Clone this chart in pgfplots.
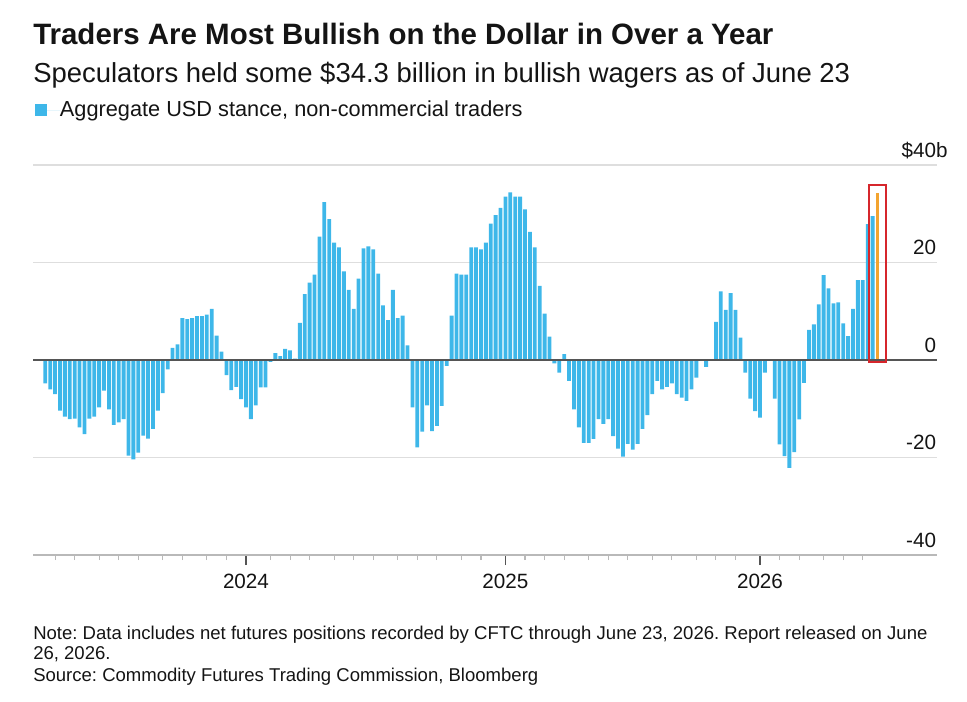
\documentclass[border=0pt]{standalone}
\usepackage{fontspec}
\setmainfont{Liberation Sans}
\usepackage{pgfplots}
\pgfplotsset{compat=1.18}
\definecolor{usdblue}{RGB}{62,183,233}
\definecolor{hlorange}{RGB}{243,164,48}
\definecolor{boxred}{RGB}{214,38,44}
\definecolor{gridgray}{RGB}{222,222,222}
\definecolor{axgray}{RGB}{185,185,185}
\definecolor{zerogray}{RGB}{85,85,85}
\definecolor{txt}{RGB}{20,20,20}
\frenchspacing
\begin{document}
\begin{tikzpicture}
\useasboundingbox (0,0) rectangle (725.25pt,-525.75pt);
\node[anchor=base west, inner sep=0pt, text=txt, font=\fontsize{22.1pt}{26pt}\selectfont\bfseries] at (24.75pt,-33pt) {Traders Are Most Bullish on the Dollar in Over a Year};
\node[anchor=base west, inner sep=0pt, text=txt, font=\fontsize{20.6pt}{24pt}\selectfont] at (24.75pt,-61.5pt) {Speculators held some \$34.3 billion in bullish wagers as of June 23};
\begin{axis}[
  at={(24.75pt,-416.25pt)}, anchor=south west,
  scale only axis, width=678pt, height=292.5pt,
  xmin=-1.51, xmax=183.16, ymin=-40, ymax=40,
  clip=false,
  axis line style={draw=none},
  ymajorgrids, grid style={gridgray, line width=1.1pt},
  ytick={-40,-20,0,20,40},
  yticklabels={-40,-20,0,20,\$40\rlap{b}},
  yticklabel pos=right, ytick pos=right,
  ytick style={draw=none},
  yticklabel style={anchor=base east, inner sep=0pt, xshift=-8pt, yshift=6pt, text=txt, font=\fontsize{15.5pt}{18pt}\selectfont},
  xtick={42,95,147}, xticklabels={2024,2025,2026},
  minor xtick={3,7,12,16,20,25,29,34,38,47,51,55,60,64,68,73,77,81,86,90,99,103,107,112,116,120,125,129,134,138,142,151,155,160,164,168},
  xtick pos=left, tick align=outside,
  major tick length=7.5pt, minor tick length=3.75pt,
  every major x tick/.append style={zerogray, line width=1pt},
  every minor x tick/.append style={axgray, line width=0.8pt},
  xticklabel style={anchor=base, inner sep=0pt, yshift=-17.25pt, text=txt, font=\fontsize{15.5pt}{18pt}\selectfont},
  legend style={draw=none, fill=none, at={(axis description cs:0.0022,1.141)}, anchor=west, inner sep=0pt, outer sep=0pt, text=txt, font=\fontsize{16.3pt}{19pt}\selectfont, nodes={inner sep=0pt}},
  legend cell align=left,
  legend image code/.code={\fill[usdblue] (0pt,-4.5pt) rectangle (9pt,4.5pt); \path (0pt,0pt) -- (18.75pt,0pt);},
]
\addplot[ybar, bar width=0.78, bar shift=0pt, fill=usdblue, draw=none] coordinates {
(1,-4.8) (2,-6.0) (3,-7.0) (4,-10.4) (5,-11.6) (6,-12.1) (7,-12.0) (8,-13.8) (9,-15.2) (10,-12.0)
(11,-11.6) (12,-9.7) (13,-6.3) (14,-10.1) (15,-13.3) (16,-12.8) (17,-12.1) (18,-19.6) (19,-20.4) (20,-19.0)
(21,-15.5) (22,-16.1) (23,-14.1) (24,-10.4) (25,-6.8) (26,-1.9) (27,2.5) (28,3.2) (29,8.6) (30,8.4)
(31,8.6) (32,9.0) (33,9.0) (34,9.3) (35,10.5) (36,5.0) (37,1.7) (38,-3.1) (39,-6.2) (40,-5.5)
(41,-8.0) (42,-9.7) (43,-12.1) (44,-9.3) (45,-5.6) (46,-5.6) (47,-0.4) (48,1.4) (49,0.8) (50,2.3)
(51,2.0) (52,0.3) (53,7.6) (54,13.5) (55,15.9) (56,17.5) (57,25.3) (58,32.4) (59,28.9) (60,24.1)
(61,23.1) (62,18.2) (63,14.4) (64,10.5) (65,16.7) (66,22.9) (67,23.3) (68,22.7) (69,17.7) (70,11.2)
(71,8.2) (72,14.4) (73,8.6) (74,9.1) (75,3.0) (76,-9.7) (77,-17.9) (78,-14.7) (79,-9.3) (80,-14.6)
(81,-13.5) (82,-9.4) (83,-1.2) (84,9.1) (85,17.7) (86,17.5) (87,17.5) (88,23.1) (89,23.1) (90,22.7)
(91,24.1) (92,28.0) (93,29.7) (94,31.2) (95,33.5) (96,34.4) (97,33.5) (98,33.5) (99,30.9) (100,26.3)
(101,23.1) (102,15.2) (103,9.5) (104,4.8) (105,-0.7) (106,-2.6) (107,1.2) (108,-4.3) (109,-10.1) (110,-13.8)
(111,-17.0) (112,-17.0) (113,-16.2) (114,-12.1) (115,-13.1) (116,-12.1) (117,-15.6) (118,-18.2) (119,-19.8) (120,-17.2)
(121,-18.4) (122,-17.2) (123,-14.1) (124,-11.3) (125,-7.0) (126,-4.3) (127,-6.0) (128,-5.5) (129,-4.8) (130,-7.0)
(131,-7.7) (132,-8.4) (133,-6.0) (134,-3.6) (135,-0.2) (136,-1.4) (137,0.2) (138,7.8) (139,14.1) (140,10.3)
(141,13.7) (142,10.3) (143,4.6) (144,-2.6) (145,-7.9) (146,-10.5) (147,-11.8) (148,-2.6) (149,-0.2) (150,-7.9)
(151,-17.3) (152,-19.7) (153,-22.1) (154,-18.9) (155,-12.2) (156,-4.7) (157,6.2) (158,7.3) (159,11.4) (160,17.4)
(161,14.7) (162,11.6) (163,11.8) (164,7.5) (165,4.9) (166,10.5) (167,16.4) (168,16.4) (169,27.9) (170,29.5)
};
\addlegendentry{Aggregate USD stance, non-commercial traders}
\addplot[forget plot, ybar, bar width=0.78, bar shift=0pt, fill=hlorange, draw=none] coordinates {(171,34.3)};
\addplot[forget plot, axgray, line width=1.1pt] coordinates {(-1.51,-40) (183.16,-40)};
\addplot[forget plot, zerogray, line width=1.1pt] coordinates {(-1.51,0) (183.16,0)};
\addplot[forget plot, boxred, line width=1.5pt, line join=miter] coordinates {(169.27,-0.5) (172.74,-0.5) (172.74,35.9) (169.27,35.9) (169.27,-0.5) (172.74,-0.5)};
\end{axis}
\node[anchor=base west, inner sep=0pt, text=txt, font=\fontsize{13.9pt}{16pt}\selectfont] at (24.75pt,-479.25pt) {Note: Data includes net futures positions recorded by CFTC through June 23, 2026. Report released on June};
\node[anchor=base west, inner sep=0pt, text=txt, font=\fontsize{13.9pt}{16pt}\selectfont] at (24.75pt,-494.25pt) {26, 2026.};
\node[anchor=base west, inner sep=0pt, text=txt, font=\fontsize{13.9pt}{16pt}\selectfont] at (24.75pt,-510.75pt) {Source: Commodity Futures Trading Commission, Bloomberg};
\end{tikzpicture}
\end{document}
